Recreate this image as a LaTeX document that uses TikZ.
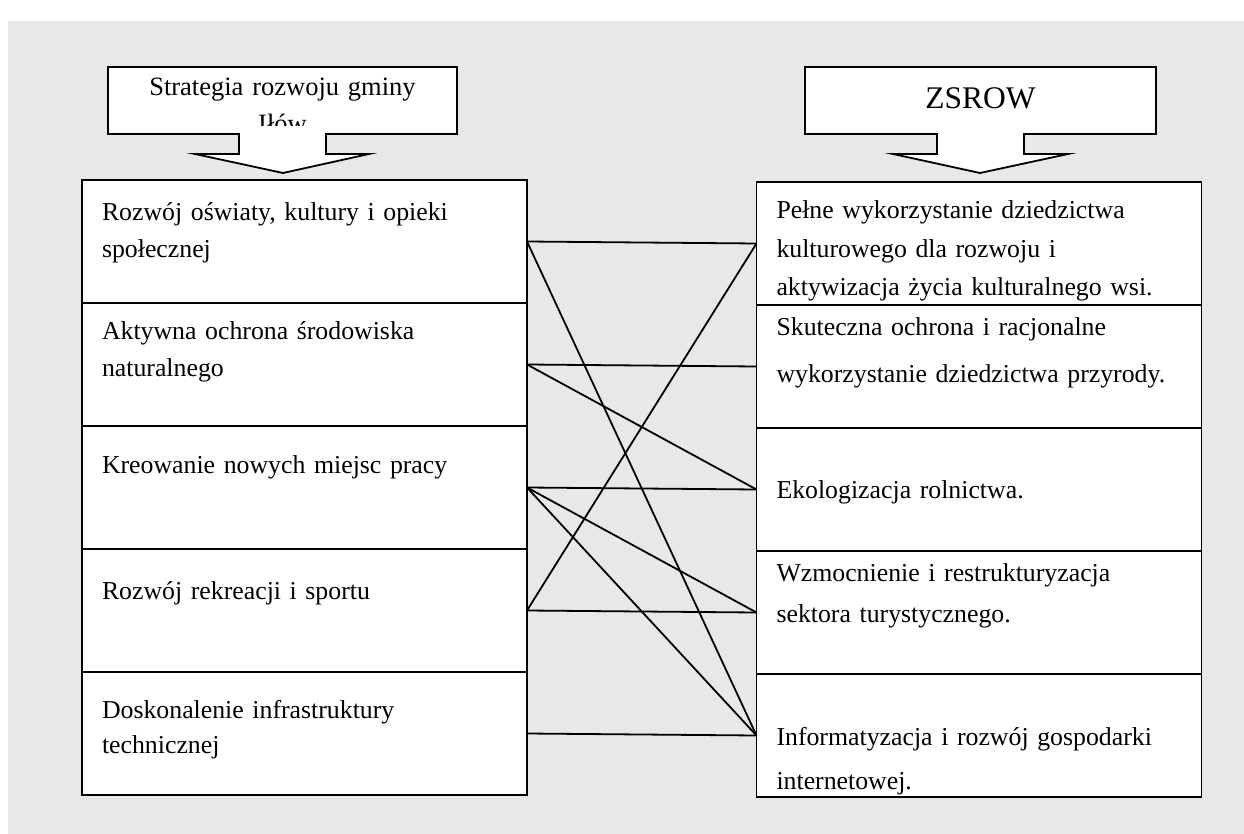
\documentclass[tikz,border=0pt]{standalone}
\usepackage{fontspec}
\setmainfont{Liberation Serif}
\usetikzlibrary{positioning}
\definecolor{panel}{RGB}{232,232,232}
\tikzset{
  goal/.style={draw, fill=white, line width=1.8pt, outer sep=0pt,
    inner xsep=20pt, inner ysep=4pt, text width=405pt, minimum height=123pt,
    align=left, text height=0pt, text depth=0pt,
    font=\fontsize{25.8}{37}\selectfont},
  link/.style={line width=1.8pt},
  callout/.style={draw, fill=white, line width=1.8pt},
  title/.style={text width=340pt, align=center, anchor=base, inner sep=0pt}
}

\begin{document}
\begin{tikzpicture}[x=1pt,y=-1pt]
  \useasboundingbox (0,0) rectangle (1244,834);
  \fill[panel] (8,21) rectangle (1244,834);

  % the two block arrows on top
  \draw[callout] (108,67) -- (457,67) -- (457,134) -- (326,134) -- (326,154)
    -- (369,154) -- (283,173) -- (195,154) -- (239,154) -- (239,134)
    -- (108,134) -- cycle;
  \draw[callout] (805,67) -- (1156,67) -- (1156,134) -- (1024,134) -- (1024,154)
    -- (1068,154) -- (980,173) -- (893,154) -- (937,154) -- (937,134)
    -- (805,134) -- cycle;
  \begin{scope}
    \clip (110,69) rectangle (455,126);
    \node[title, font=\fontsize{26.5}{37}\selectfont] (gmina) at (282.5,96)
      {Strategia rozwoju gminy\\Iłów};
  \end{scope}
  \node[title, font=\fontsize{31.5}{37}\selectfont] (zsrow) at (980.5,109) {ZSROW};

  % left column
  \node[goal, text depth=42pt] (L1) at (304.5,241.5)
    {Rozwój oświaty, kultury i opieki\\ społecznej};
  \node[goal, text depth=50pt, below=0pt of L1] (L2)
    {Aktywna ochrona środowiska\\ naturalnego};
  \node[goal, text depth=29pt, below=0pt of L2] (L3)
    {Kreowanie nowych miejsc pracy};
  \node[goal, text depth=22pt, below=0pt of L3] (L4)
    {Rozwój rekreacji i sportu};
  \node[goal, text depth=31pt, below=0pt of L4] (L5)
    {Doskonalenie infrastruktury\\[-2pt] technicznej};

  % right column
  \node[goal, text depth=49pt] (R1) at (979,243.5)
    {Pełne wykorzystanie dziedzictwa\\[1.5pt] kulturowego dla rozwoju i\\[1.5pt] aktywizacja życia kulturalnego wsi.};
  \node[goal, text depth=63pt, below=0pt of R1] (R2)
    {Skuteczna ochrona i racjonalne\\[10pt] wykorzystanie dziedzictwa przyrody.};
  \node[goal, text height=17pt, below=0pt of R2] (R3)
    {Ekologizacja rolnictwa.};
  \node[goal, text depth=63pt, below=0pt of R3] (R4)
    {Wzmocnienie i restrukturyzacja\\[4pt] sektora turystycznego.};
  \node[goal, text height=19pt, below=0pt of R4] (R5)
    {Informatyzacja i rozwój gospodarki\\[7pt] internetowej.};

  % links between goals
  \foreach \a/\b in {1/1,1/5,2/2,2/3,3/3,3/4,3/5,4/1,4/4,5/5}
    \draw[link] (L\a.east) -- (R\b.west);
\end{tikzpicture}
\end{document}
